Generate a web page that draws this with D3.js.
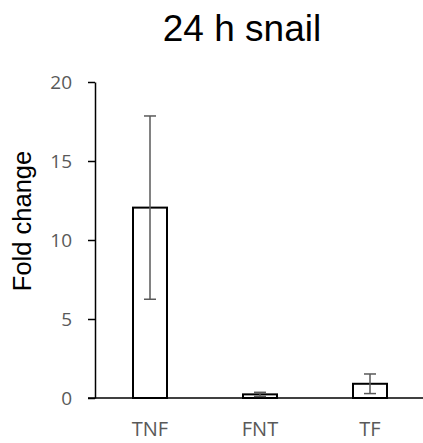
<!DOCTYPE html>
<html>
<head>
<meta charset="UTF-8">
<script src="https://d3js.org/d3.v7.min.js"></script>
<style>
  body { margin: 0; background: #fff; }
</style>
</head>
<body>
<div id="chart"></div>
<script>
const categories = ["TNF", "FNT", "TF"];
const values = [12.05, 0.23, 0.9];
const errors = [5.8, 0.13, 0.62];
const yTicks = [0, 5, 10, 15, 20];

const width = 423, height = 443;
const svg = d3.select("#chart").append("svg")
  .attr("width", width).attr("height", height);

const x = d3.scaleBand().domain(categories).range([95, 425]).paddingInner(0).paddingOuter(0);
const y = d3.scaleLinear().domain([0, 20]).range([398, 82]);
const barW = 34;

// title
svg.append("text")
  .attr("x", 242).attr("y", 41)
  .attr("text-anchor", "middle")
  .style("font-family", "Liberation Sans, Arial, sans-serif")
  .style("font-size", "37px")
  .text("24 h snail");

// y label
svg.append("text")
  .attr("transform", "translate(31,221) rotate(-90)")
  .attr("text-anchor", "middle")
  .style("font-family", "Liberation Sans, Arial, sans-serif")
  .style("font-size", "25.5px")
  .text("Fold change");

// y axis
const yAxis = svg.append("g")
  .attr("transform", "translate(95,0)")
  .call(d3.axisLeft(y).tickValues(yTicks).tickSize(7).tickPadding(16).tickSizeOuter(0));
yAxis.select(".domain").attr("stroke", "#000").attr("stroke-width", 1.5);
yAxis.selectAll(".tick line").attr("stroke", "#000").attr("stroke-width", 1.5);
yAxis.selectAll(".tick text")
  .style("font-family", "Open Sans, sans-serif")
  .style("font-size", "19px")
  .style("fill", "#595959");

// x axis line
svg.append("line")
  .attr("x1", 88).attr("x2", 423)
  .attr("y1", y(0)).attr("y2", y(0))
  .attr("stroke", "#000").attr("stroke-width", 1.5);

// bars
svg.selectAll("rect.bar").data(values).enter().append("rect")
  .attr("class", "bar")
  .attr("x", (d, i) => x(categories[i]) + x.bandwidth() / 2 - barW / 2)
  .attr("y", d => y(d))
  .attr("width", barW)
  .attr("height", d => y(0) - y(d))
  .attr("fill", "#fff")
  .attr("stroke", "#000")
  .attr("stroke-width", 2);

// error bars
const eb = svg.selectAll("g.err").data(values).enter().append("g")
  .attr("stroke", "#595959").attr("stroke-width", 1.5);
eb.append("line")
  .attr("x1", (d, i) => x(categories[i]) + x.bandwidth() / 2)
  .attr("x2", (d, i) => x(categories[i]) + x.bandwidth() / 2)
  .attr("y1", (d, i) => y(d + errors[i]))
  .attr("y2", (d, i) => y(d - errors[i]));
[1, -1].forEach(s => {
  eb.append("line")
    .attr("x1", (d, i) => x(categories[i]) + x.bandwidth() / 2 - 6)
    .attr("x2", (d, i) => x(categories[i]) + x.bandwidth() / 2 + 6)
    .attr("y1", (d, i) => y(d + s * errors[i]))
    .attr("y2", (d, i) => y(d + s * errors[i]));
});

// category labels
svg.selectAll("text.cat").data(categories).enter().append("text")
  .attr("class", "cat")
  .attr("x", d => x(d) + x.bandwidth() / 2)
  .attr("y", 436)
  .attr("text-anchor", "middle")
  .style("font-family", "Open Sans, sans-serif")
  .style("font-size", "20px")
  .style("fill", "#595959")
  .text(d => d);
</script>
</body>
</html>
